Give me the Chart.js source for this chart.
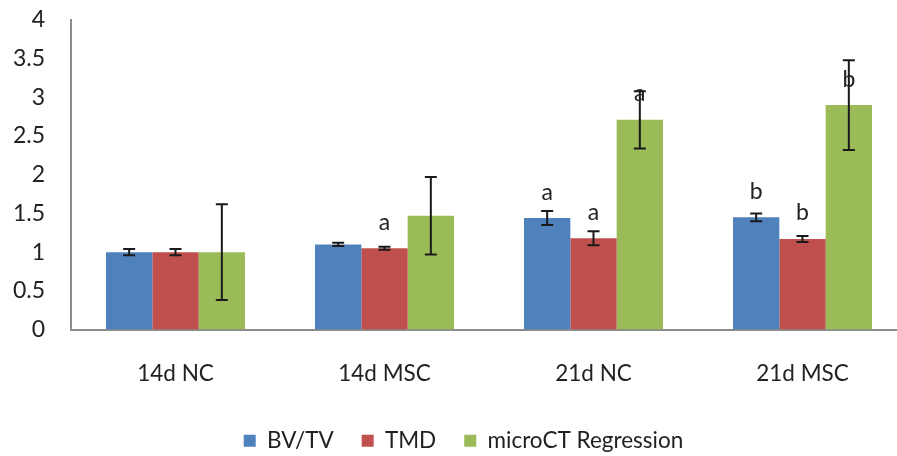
<!DOCTYPE html>
<html>
<head>
<meta charset="utf-8">
<script src="https://cdn.jsdelivr.net/npm/chart.js@4.4.0/dist/chart.umd.min.js"></script>
<style>
html,body{margin:0;padding:0;background:#fff;overflow:hidden;}
#wrap{position:relative;width:926px;height:456px;}
</style>
</head>
<body>
<div id="wrap"><canvas id="c"></canvas></div>
<script>
const categories = ["14d NC", "14d MSC", "21d NC", "21d MSC"];
const seriesNames = ["BV/TV", "TMD", "microCT Regression"];
const bvtv = [1.00, 1.10, 1.44, 1.45];
const tmd = [1.00, 1.05, 1.18, 1.17];
const microCT = [1.00, 1.47, 2.71, 2.90];
const bvtvErr = [0.04, 0.02, 0.09, 0.05];
const tmdErr = [0.04, 0.02, 0.09, 0.04];
const microCTErr = [0.62, 0.50, 0.37, 0.58];
const bvtvLetters = ["", "", "a", "b"];
const tmdLetters = ["", "a", "a", "b"];
const microCTLetters = ["", "", "a", "b"];
const yTicks = [0, 0.5, 1, 1.5, 2, 2.5, 3, 3.5, 4];

const colors = ["#4F81BD", "#C0504D", "#9BBB59"];
const errs = [bvtvErr, tmdErr, microCTErr];
const letters = [bvtvLetters, tmdLetters, microCTLetters];
const FONT = "Lato, 'Open Sans', sans-serif";

const overlay = {
  id: 'overlay',
  afterLayout(chart) {
    const l = chart.legend;
    if (l) { l.left += 10; l.right += 10; }
  },
  afterDatasetsDraw(chart) {
    const ctx = chart.ctx;
    const y = chart.scales.y;
    chart.data.datasets.forEach((ds, di) => {
      const meta = chart.getDatasetMeta(di);
      meta.data.forEach((bar, i) => {
        const v = ds.data[i];
        const e = errs[di][i];
        const x = bar.x;
        const yTop = y.getPixelForValue(v + e);
        const yBot = y.getPixelForValue(v - e);
        ctx.save();
        ctx.strokeStyle = "#1a1a1a";
        ctx.lineWidth = 2;
        ctx.beginPath();
        ctx.moveTo(x, yTop); ctx.lineTo(x, yBot);
        ctx.moveTo(x - 6, yTop); ctx.lineTo(x + 6, yTop);
        ctx.moveTo(x - 6, yBot); ctx.lineTo(x + 6, yBot);
        ctx.stroke();
        const L = letters[di][i];
        if (L) {
          ctx.fillStyle = "#222";
          ctx.font = "23px " + FONT;
          ctx.textAlign = "center";
          ctx.textBaseline = "middle";
          ctx.fillText(L, x, bar.y - 26);
        }
        ctx.restore();
      });
    });
  }
};

new Chart(document.getElementById('c'), {
  type: 'bar',
  data: {
    labels: categories,
    datasets: [
      { label: seriesNames[0], data: bvtv, backgroundColor: colors[0] },
      { label: seriesNames[1], data: tmd, backgroundColor: colors[1] },
      { label: seriesNames[2], data: microCT, backgroundColor: colors[2] }
    ]
  },
  options: {
    responsive: true,
    maintainAspectRatio: false,
    animation: false,
    datasets: { bar: { categoryPercentage: 0.665, barPercentage: 1.0 } },
    layout: { padding: { top: 20, right: 19, bottom: -6, left: 0 } },
    plugins: {
      tooltip: { enabled: false },
      legend: {
        position: 'bottom',
        labels: {
          boxWidth: 12, boxHeight: 12, padding: 28,
          color: "#222",
          font: { family: FONT, size: 22.5 }
        }
      }
    },
    scales: {
      x: {
        grid: { display: false, drawTicks: false },
        border: { display: true, color: "#8c8c8c", width: 2 },
        ticks: { color: "#222", padding: 31, maxRotation: 0, minRotation: 0, autoSkip: false,
          font: { family: FONT, size: 22.5 } },
        afterFit(s) { s.height = 72; }
      },
      y: {
        min: 0, max: 4,
        afterBuildTicks(s) { s.ticks = yTicks.map(v => ({ value: v })); },
        grid: { display: false, drawTicks: false },
        border: { display: true, color: "#8c8c8c", width: 2 },
        ticks: { color: "#222", padding: 26, font: { family: FONT, size: 23 },
          callback: (v) => String(v) },
        afterFit(s) { s.width = 71; s.paddingTop = 10; s.paddingBottom = 10; }
      }
    }
  },
  plugins: [overlay]
});
</script>
</body>
</html>
